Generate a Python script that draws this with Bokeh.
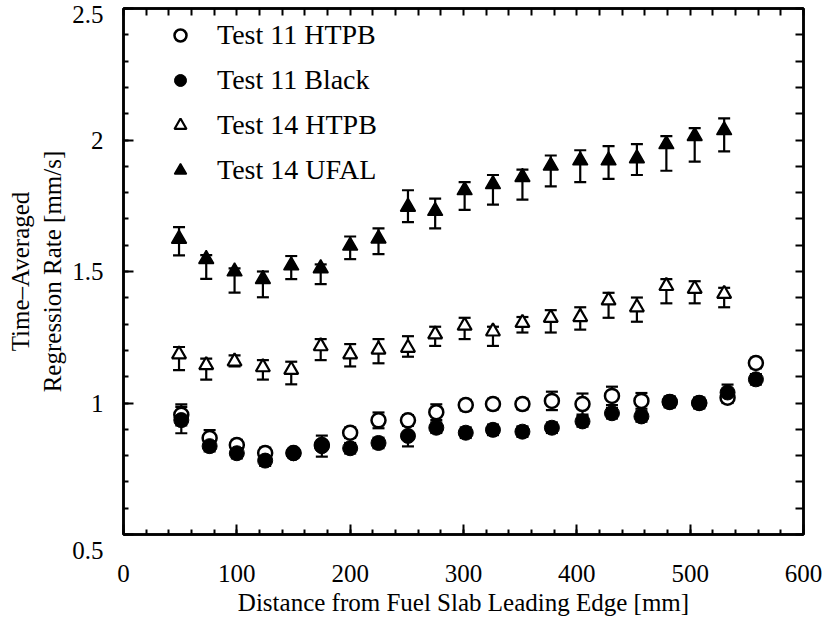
from bokeh.plotting import figure
from bokeh.models import (ColumnDataSource, Whisker, TeeHead, LinearAxis,
                          SingleIntervalTicker, FixedTicker, Legend, LegendItem)
from bokeh.embed import file_html
from bokeh.resources import INLINE

# ---------------- data ----------------
x_t11 = [51, 76, 100, 125, 150, 175, 200, 225, 251, 276, 302, 326, 352, 378,
         405, 431, 457, 482, 508, 533, 558]
t11_htpb = [0.955, 0.867, 0.84, 0.81, 0.81, 0.84, 0.887, 0.934, 0.934, 0.965,
            0.992, 0.996, 0.996, 1.008, 0.996, 1.027, 1.008, 1.004, 1.0, 1.02, 1.152]
t11_htpb_err = [0.04, 0.03, 0.02, 0.02, 0.015, 0.015, 0.02, 0.03, 0.02, 0.03,
                0.02, 0.02, 0.02, 0.035, 0.04, 0.035, 0.03, 0.02, 0.02, 0.02, 0.02]
t11_black = [0.935, 0.836, 0.809, 0.781, 0.809, 0.836, 0.828, 0.848, 0.875, 0.906,
             0.887, 0.898, 0.891, 0.906, 0.930, 0.961, 0.949, 1.004, 1.0, 1.04, 1.09]
t11_black_err = [0.05, 0.02, 0.02, 0.02, 0.015, 0.04, 0.02, 0.02, 0.04, 0.02,
                 0.02, 0.02, 0.02, 0.02, 0.02, 0.02, 0.02, 0.02, 0.02, 0.03, 0.02]

x_t14 = [49, 73, 98, 123, 148, 174, 200, 225, 251, 275, 301, 326, 352, 377,
         403, 428, 453, 479, 504, 530]
t14_htpb = [1.185, 1.144, 1.158, 1.136, 1.126, 1.216, 1.185, 1.203, 1.210, 1.261,
            1.294, 1.272, 1.305, 1.324, 1.327, 1.390, 1.364, 1.445, 1.434, 1.415]
t14_htpb_lo = [1.125, 1.089, 1.139, 1.089, 1.071, 1.163, 1.139, 1.151, 1.176, 1.217,
               1.243, 1.217, 1.268, 1.268, 1.279, 1.324, 1.309, 1.379, 1.379, 1.364]
t14_htpb_hi = [1.213, 1.169, 1.181, 1.163, 1.157, 1.243, 1.224, 1.243, 1.254, 1.290,
               1.324, 1.290, 1.327, 1.353, 1.364, 1.419, 1.401, 1.471, 1.463, 1.438]
t14_ufal = [1.624, 1.547, 1.500, 1.471, 1.523, 1.512, 1.598, 1.625, 1.746, 1.730,
            1.809, 1.832, 1.859, 1.902, 1.922, 1.922, 1.930, 1.984, 2.015, 2.037]
t14_ufal_lo = [1.561, 1.472, 1.420, 1.402, 1.471, 1.452, 1.547, 1.566, 1.688, 1.664,
               1.734, 1.754, 1.773, 1.824, 1.840, 1.852, 1.867, 1.883, 1.918, 1.957]
t14_ufal_hi = [1.669, 1.562, 1.512, 1.500, 1.559, 1.527, 1.633, 1.664, 1.809, 1.777,
               1.840, 1.867, 1.887, 1.941, 1.961, 1.977, 1.984, 2.015, 2.045, 2.082]

series_labels = ["Test 11 HTPB", "Test 11 Black", "Test 14 HTPB", "Test 14 UFAL"]
y_tick_values = [0.5, 1.0, 1.5, 2.0, 2.5]
y_tick_labels = ["0.5", "1", "1.5", "2", "2.5"]
x_label = "Distance from Fuel Slab Leading Edge [mm]"
y_label = "Time\u2013Averaged\nRegression Rate [mm/s]"

FONT = "Liberation Serif"
x_minor_ticks = [float(v) for v in range(0, 601, 20)]
y_minor_ticks = [round(0.5 + 0.1 * i, 2) for i in range(21)]

# ---------------- figure ----------------
p = figure(width=834, height=632, x_range=(0, 600), y_range=(0.5, 2.5),
           output_backend="svg", toolbar_location=None,
           min_border_left=123, min_border_right=31,
           min_border_top=8, min_border_bottom=98)
p.background_fill_color = "white"
p.border_fill_color = "white"
p.outline_line_color = "black"
p.outline_line_width = 2.5
p.grid.visible = False

def style_axis(ax):
    ax.axis_line_width = 2.5
    ax.axis_line_color = "black"
    ax.major_tick_in = 10
    ax.major_tick_out = 0
    ax.minor_tick_in = 5
    ax.minor_tick_out = 0
    ax.major_tick_line_width = 2
    ax.minor_tick_line_width = 2
    ax.major_tick_line_color = "black"
    ax.minor_tick_line_color = "black"
    ax.major_label_text_font = FONT
    ax.major_label_text_font_size = "25px"
    ax.major_label_text_color = "black"
    ax.axis_label_text_font = FONT
    ax.axis_label_text_font_style = "normal"
    ax.axis_label_text_color = "black"
    ax.axis_label_text_font_size = "25px"

xax = p.xaxis[0]
xax.ticker = SingleIntervalTicker(interval=100, num_minor_ticks=5)
style_axis(xax)
xax.major_label_standoff = 30
xax.axis_label = x_label
xax.axis_label_standoff = 4

# the bottom label sits a little below its tick, as in the reference
yax = p.yaxis[0]
yax.ticker = SingleIntervalTicker(interval=0.5, num_minor_ticks=5)
style_axis(yax)
yax.major_label_standoff = 20
yax.major_label_overrides = {v: ("\n" + t if v == y_tick_values[0] else t)
                             for v, t in zip(y_tick_values, y_tick_labels)}
yax.axis_label = y_label
yax.axis_label_standoff = 3

# mirrored tick marks on the right and top (no labels)
right = LinearAxis(ticker=FixedTicker(ticks=[], minor_ticks=y_minor_ticks))
style_axis(right)
right.minor_tick_in = 8
p.add_layout(right, "right")
top = LinearAxis(ticker=FixedTicker(ticks=[], minor_ticks=x_minor_ticks))
style_axis(top)
top.minor_tick_in = 7
p.add_layout(top, "above")

# ---------------- sources ----------------
s11h = ColumnDataSource(dict(x=x_t11, y=t11_htpb,
                             lo=[v - e for v, e in zip(t11_htpb, t11_htpb_err)],
                             hi=[v + e for v, e in zip(t11_htpb, t11_htpb_err)]))
s11b = ColumnDataSource(dict(x=x_t11, y=t11_black,
                             lo=[v - e for v, e in zip(t11_black, t11_black_err)],
                             hi=[v + e for v, e in zip(t11_black, t11_black_err)]))
s14h = ColumnDataSource(dict(x=x_t14, y=t14_htpb, lo=t14_htpb_lo, hi=t14_htpb_hi))
s14u = ColumnDataSource(dict(x=x_t14, y=t14_ufal, lo=t14_ufal_lo, hi=t14_ufal_hi))

for src in (s11h, s11b, s14h, s14u):
    w = Whisker(source=src, base="x", lower="lo", upper="hi",
                line_color="black", line_width=2.2,
                upper_head=TeeHead(size=12, line_width=2.2, line_color="black"),
                lower_head=TeeHead(size=12, line_width=2.2, line_color="black"))
    p.add_layout(w)

r14h = p.scatter("x", "y", source=s14h, marker="triangle", size=14,
                 fill_color="white", line_color="black", line_width=2.2)
r14u = p.scatter("x", "y", source=s14u, marker="triangle", size=15,
                 fill_color="black", line_color="black", line_width=1.5)
r11h = p.scatter("x", "y", source=s11h, marker="circle", size=14,
                 fill_color="white", line_color="black", line_width=2.5)
r11b = p.scatter("x", "y", source=s11b, marker="circle", size=15,
                 fill_color="black", line_color="black", line_width=1)

legend = Legend(items=[LegendItem(label=series_labels[0], renderers=[r11h]),
                       LegendItem(label=series_labels[1], renderers=[r11b]),
                       LegendItem(label=series_labels[2], renderers=[r14h]),
                       LegendItem(label=series_labels[3], renderers=[r14u])],
                location=(42, 348), orientation="vertical",
                border_line_color=None, background_fill_alpha=0,
                padding=0, margin=0, spacing=13,
                glyph_width=30, glyph_height=30, label_height=30,
                label_standoff=22,
                label_text_font=FONT, label_text_font_size="28px",
                label_text_color="black")
p.add_layout(legend)

open("out.html", "w").write(file_html(p, INLINE))
